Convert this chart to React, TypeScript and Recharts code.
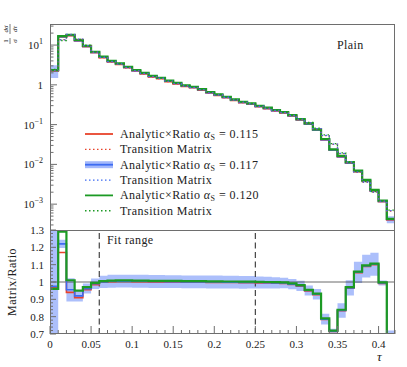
import { ComposedChart, Line, Area, XAxis, YAxis, ReferenceLine } from 'recharts';

// bin lower edges (width 0.01), last entry closes the final bin
const binEdges = Array.from({ length: 43 }, (_, i) => i / 100);

// 1/sigma dsigma/dtau, Analytic x Ratio
const analyticRed = [2.25, 16.0, 17.3, 12.7, 9.1, 6.45, 4.84, 3.8, 3.29, 2.7, 2.24, 1.9, 1.6, 1.43, 1.21, 1.06, 0.92, 0.85, 0.74, 0.627, 0.548, 0.477, 0.41, 0.357, 0.326, 0.283, 0.253, 0.221, 0.197, 0.165, 0.131, 0.103, 0.0724, 0.0413, 0.0227, 0.0155, 0.0107, 0.0066, 0.00386, 0.00217, 0.00116, 0.000404];
const analyticBlue = [2.3, 16.4, 17.7, 13.0, 9.3, 6.6, 4.95, 3.88, 3.37, 2.77, 2.29, 1.95, 1.64, 1.47, 1.24, 1.09, 0.94, 0.868, 0.757, 0.64, 0.56, 0.487, 0.419, 0.365, 0.333, 0.289, 0.258, 0.226, 0.201, 0.169, 0.134, 0.105, 0.0739, 0.0422, 0.0232, 0.0158, 0.011, 0.00674, 0.00394, 0.00221, 0.00118, 0.000412];
const analyticGreen = [2.35, 16.8, 18.2, 13.4, 9.6, 6.8, 5.1, 4.0, 3.47, 2.85, 2.36, 2.01, 1.69, 1.51, 1.28, 1.12, 0.97, 0.895, 0.78, 0.66, 0.577, 0.502, 0.432, 0.376, 0.343, 0.298, 0.266, 0.233, 0.207, 0.174, 0.138, 0.108, 0.0762, 0.0435, 0.0239, 0.0163, 0.0113, 0.00695, 0.00406, 0.00228, 0.00122, 0.000425];

// ratio panel
const ratioRed = [0.97, 1.17, 0.94, 0.91, 0.955, 0.985, 0.999, 1.002, 1.003, 1.003, 1.002, 1.002, 1.001, 1.001, 1.0, 1.0, 0.999, 0.999, 0.999, 0.998, 0.998, 0.997, 0.997, 0.996, 0.996, 0.995, 0.994, 0.993, 0.992, 0.986, 0.976, 0.949, 0.927, 0.784, 0.714, 0.834, 0.964, 1.054, 1.09, 1.1, 0.992, 0.6];
const ratioBlue = [0.975, 1.22, 0.955, 0.92, 0.962, 0.99, 1.001, 1.004, 1.005, 1.005, 1.004, 1.004, 1.003, 1.003, 1.002, 1.002, 1.001, 1.001, 1.001, 1.0, 1.0, 0.999, 0.999, 0.998, 0.998, 0.997, 0.996, 0.995, 0.994, 0.988, 0.978, 0.951, 0.929, 0.786, 0.716, 0.836, 0.966, 1.056, 1.092, 1.102, 0.994, 0.6];
const ratioGreen = [0.96, 1.29, 1.01, 0.95, 0.97, 0.995, 1.005, 1.008, 1.009, 1.009, 1.008, 1.008, 1.007, 1.007, 1.006, 1.006, 1.005, 1.005, 1.005, 1.004, 1.004, 1.003, 1.003, 1.002, 1.002, 1.001, 1.0, 0.999, 0.998, 0.992, 0.982, 0.955, 0.933, 0.79, 0.72, 0.84, 0.97, 1.06, 1.096, 1.106, 0.998, 0.6];
// relative uncertainty of alpha_S = 0.117
const errBlue = [0.35, 0.02, 0.07, 0.035, 0.03, 0.03, 0.035, 0.037, 0.037, 0.037, 0.037, 0.037, 0.037, 0.037, 0.037, 0.037, 0.037, 0.037, 0.037, 0.037, 0.037, 0.037, 0.037, 0.037, 0.036, 0.035, 0.034, 0.032, 0.03, 0.03, 0.03, 0.03, 0.033, 0.04, 0.02, 0.05, 0.045, 0.058, 0.06, 0.06, 0.015, 0.2];

const fitRange = [0.06, 0.25];
const xMajor = [0, 0.05, 0.1, 0.15, 0.2, 0.25, 0.3, 0.35, 0.4];
const yTopMajor = [0.001, 0.01, 0.1, 1, 10];
const yRatioMajor = [0.7, 0.8, 0.9, 1, 1.1, 1.2, 1.3];

const legendItems = [
  { color: '#e8432b', kind: 'solid', alpha: '0.115' },
  { color: '#e8432b', kind: 'dotted', alpha: '' },
  { color: '#3d6bf2', kind: 'band', alpha: '0.117' },
  { color: '#3d6bf2', kind: 'dotted', alpha: '' },
  { color: '#1c9a24', kind: 'solid', alpha: '0.120' },
  { color: '#1c9a24', kind: 'dotted', alpha: '' },
];

const RED = '#e8432b';
const BLUE = '#3d6bf2';
const BAND = '#a3b8fb';
const GREEN = '#1c9a24';
const FRAME = '#6e6e6e';
const FONT = "'Liberation Serif', 'DejaVu Serif', serif";
const DOT = '1.5 2.5';

const xTicks = Array.from({ length: 43 }, (_, i) => i / 100);
const yTopTicks: number[] = [];
[-4, -3, -2, -1, 0, 1].forEach((e) => {
  for (let m = 1; m < 10; m++) {
    const v = m * Math.pow(10, e);
    if (v > 2.3e-4 && v < 33) yTopTicks.push(Number(v.toPrecision(3)));
  }
});
const yRatioTicks = Array.from({ length: 31 }, (_, i) => Math.round((0.7 + i * 0.02) * 100) / 100);

const isMajorX = (v: number) => xMajor.some((m) => Math.abs(m - v) < 1e-6);
const isMajorLog = (v: number) => yTopMajor.some((m) => Math.abs(m - v) / m < 1e-6);
const isMajorRatio = (v: number) => yRatioMajor.some((m) => Math.abs(m - v) < 1e-6);

const last = analyticGreen.length - 1;
const rows = binEdges.map((x, i) => {
  const k = Math.min(i, last);
  return {
    x,
    red: analyticRed[k],
    blue: analyticBlue[k],
    green: analyticGreen[k],
    redM: analyticRed[k] / ratioRed[k],
    blueM: analyticBlue[k] / ratioBlue[k],
    greenM: analyticGreen[k] / ratioGreen[k],
    band: [analyticBlue[k] * (1 - errBlue[k]), analyticBlue[k] * (1 + errBlue[k])],
    rRed: ratioRed[k],
    rBlue: ratioBlue[k],
    rGreen: ratioGreen[k],
    rBand: [ratioBlue[k] * (1 - errBlue[k]), ratioBlue[k] * (1 + errBlue[k])],
  };
});

function XTickUp(props: any) {
  const { x, y, payload } = props;
  const len = isMajorX(payload.value) ? 8 : 4;
  return <line x1={x} x2={x} y1={y} y2={y - len} stroke={FRAME} strokeWidth={1} />;
}

function XTickDown(props: any) {
  const { x, y, payload } = props;
  const len = isMajorX(payload.value) ? 8 : 4;
  return <line x1={x} x2={x} y1={y} y2={y + len} stroke={FRAME} strokeWidth={1} />;
}

function XTickBottom(props: any) {
  const { x, y, payload } = props;
  const major = isMajorX(payload.value);
  return (
    <g>
      <line x1={x} x2={x} y1={y} y2={y - (major ? 8 : 4)} stroke={FRAME} strokeWidth={1} />
      {major && (
        <text x={x} y={y + 14} textAnchor="middle" fontSize={11} fontFamily={FONT} fill="#222">
          {String(payload.value)}
        </text>
      )}
    </g>
  );
}

function YTickLog(props: any) {
  const { x, y, payload } = props;
  const v = payload.value;
  const major = isMajorLog(v);
  const e = Math.round(Math.log10(v));
  return (
    <g>
      <line x1={x} x2={x + (major ? 7 : 3.5)} y1={y} y2={y} stroke={FRAME} strokeWidth={1} />
      {major && (
        <text x={x - 7} y={y + 4} textAnchor="end" fontSize={11} fontFamily={FONT} fill="#222">
          {e === 0 ? '1' : '10'}
          {e !== 0 && (
            <tspan dy={-5} fontSize={8}>
              {e < 0 ? '\u2212' + -e : String(e)}
            </tspan>
          )}
        </text>
      )}
    </g>
  );
}

function YTickRatio(props: any) {
  const { x, y, payload } = props;
  const major = isMajorRatio(payload.value);
  return (
    <g>
      <line x1={x} x2={x + (major ? 6 : 3)} y1={y} y2={y} stroke={FRAME} strokeWidth={1} />
      {major && (
        <text x={x - 6} y={y + 4} textAnchor="end" fontSize={11} fontFamily={FONT} fill="#222">
          {String(payload.value)}
        </text>
      )}
    </g>
  );
}

function Swatch({ item, y }: { item: any; y: number }) {
  if (item.kind === 'band') {
    return (
      <g>
        <rect x={5} y={y - 3.5} width={28} height={7} fill={BAND} />
        <line x1={5} x2={33} y1={y} y2={y} stroke={item.color} strokeWidth={1.8} />
      </g>
    );
  }
  return (
    <line
      x1={5}
      x2={33}
      y1={y}
      y2={y}
      stroke={item.color}
      strokeWidth={item.kind === 'solid' ? 1.8 : 1.3}
      strokeDasharray={item.kind === 'dotted' ? DOT : undefined}
    />
  );
}

export default function App() {
  return (
    <div
      style={{
        position: 'absolute',
        left: 0,
        top: 0,
        width: 407,
        height: 367,
        background: '#fff',
        fontFamily: FONT,
      }}
    >
      <style>{`.recharts-surface{overflow:visible}`}</style>
      <div style={{ position: 'absolute', left: 0, top: 0 }}>
        <ComposedChart width={407} height={230} data={rows} margin={{ top: 24, right: 12, bottom: 0, left: 0 }}>
          <XAxis
            type="number"
            dataKey="x"
            domain={[0, 0.42]}
            allowDataOverflow
            ticks={xTicks}
            interval={0}
            height={0}
            tickSize={0}
            tickMargin={0}
            axisLine={false}
            tickLine={false}
            tick={<XTickUp />}
          />
          <YAxis
            type="number"
            scale="log"
            domain={[Math.pow(10, -3.65), Math.pow(10, 1.53)]}
            allowDataOverflow
            ticks={yTopTicks}
            interval={0}
            width={50}
            tickSize={0}
            tickMargin={0}
            axisLine={false}
            tickLine={false}
            tick={<YTickLog />}
          />
          <Area type="stepAfter" dataKey="band" fill={BAND} fillOpacity={0.9} stroke="none" isAnimationActive={false} />
          <Line type="stepAfter" dataKey="red" stroke={RED} strokeWidth={1.8} dot={false} isAnimationActive={false} />
          <Line type="stepAfter" dataKey="blue" stroke={BLUE} strokeWidth={1.8} dot={false} isAnimationActive={false} />
          <Line type="stepAfter" dataKey="green" stroke={GREEN} strokeWidth={2.2} dot={false} isAnimationActive={false} />
          <Line type="stepAfter" dataKey="redM" stroke={RED} strokeWidth={1.3} strokeDasharray={DOT} dot={false} isAnimationActive={false} />
          <Line type="stepAfter" dataKey="blueM" stroke={BLUE} strokeWidth={1.3} strokeDasharray={DOT} dot={false} isAnimationActive={false} />
          <Line type="stepAfter" dataKey="greenM" stroke={GREEN} strokeWidth={1.3} strokeDasharray={DOT} dot={false} isAnimationActive={false} />
        </ComposedChart>
      </div>

      <div style={{ position: 'absolute', left: 0, top: 230 }}>
        <ComposedChart width={407} height={137} data={rows} margin={{ top: 0, right: 12, bottom: 0, left: 0 }}>
          <XAxis
            type="number"
            dataKey="x"
            domain={[0, 0.42]}
            allowDataOverflow
            ticks={xTicks}
            interval={0}
            height={33}
            tickSize={0}
            tickMargin={0}
            axisLine={false}
            tickLine={false}
            tick={<XTickBottom />}
          />
          <XAxis
            xAxisId="top"
            orientation="top"
            type="number"
            domain={[0, 0.42]}
            allowDataOverflow
            ticks={xTicks}
            interval={0}
            height={0}
            tickSize={0}
            tickMargin={0}
            axisLine={false}
            tickLine={false}
            tick={<XTickDown />}
          />
          <YAxis
            type="number"
            domain={[0.7, 1.3]}
            allowDataOverflow
            ticks={yRatioTicks}
            interval={0}
            width={50}
            tickSize={0}
            tickMargin={0}
            axisLine={false}
            tickLine={false}
            tick={<YTickRatio />}
          />
          <Area type="stepAfter" dataKey="rBand" fill={BAND} fillOpacity={0.9} stroke="none" isAnimationActive={false} />
          <ReferenceLine y={1} stroke="#444" strokeWidth={0.8} />
          {fitRange.map((f) => (
            <ReferenceLine key={f} x={f} stroke="#444" strokeWidth={1.2} strokeDasharray="6 3.5" />
          ))}
          <Line type="stepAfter" dataKey="rRed" stroke={RED} strokeWidth={1.6} dot={false} isAnimationActive={false} />
          <Line type="stepAfter" dataKey="rBlue" stroke={BLUE} strokeWidth={1.6} dot={false} isAnimationActive={false} />
          <Line type="stepAfter" dataKey="rGreen" stroke={GREEN} strokeWidth={2.2} dot={false} isAnimationActive={false} />
        </ComposedChart>
      </div>

      <svg
        width={407}
        height={367}
        style={{ position: 'absolute', left: 0, top: 0, pointerEvents: 'none' }}
        fontFamily={FONT}
      >
        <rect x={50.5} y={24.5} width={344} height={206} fill="none" stroke={FRAME} strokeWidth={1} />
        <rect x={50.5} y={230.5} width={344} height={103} fill="none" stroke={FRAME} strokeWidth={1} />

        <g transform="translate(10,35) rotate(-90)" fill="#222">
          <text x={-6} y={-2} textAnchor="middle" fontSize={7}>1</text>
          <line x1={-9} x2={-3} y1={0} y2={0} stroke="#222" strokeWidth={0.6} />
          <text x={-6} y={6.5} textAnchor="middle" fontSize={7} fontStyle="italic">σ</text>
          <text x={6} y={-2} textAnchor="middle" fontSize={7} fontStyle="italic">dσ</text>
          <line x1={1} x2={11} y1={0} y2={0} stroke="#222" strokeWidth={0.6} />
          <text x={6} y={6.5} textAnchor="middle" fontSize={7} fontStyle="italic">dτ</text>
        </g>

        <text
          transform="translate(16,282) rotate(-90)"
          textAnchor="middle"
          fontSize={12}
          letterSpacing={0.5}
          fill="#222"
        >
          Matrix/Ratio
        </text>

        <text x={337} y={49} fontSize={12} letterSpacing={0.4} fill="#222">Plain</text>
        <text x={107} y={244} fontSize={12} letterSpacing={0.4} fill="#222">Fit range</text>
        <text x={377} y={361} fontSize={13} fontStyle="italic" fill="#222">τ</text>

        <g transform="translate(80,125)">
          {legendItems.map((item, i) => {
            const y = 9 + i * 15.35;
            return (
              <g key={i}>
                <Swatch item={item} y={y} />
                <text x={40} y={y + 4} fontSize={12} letterSpacing={0.45} fill="#222">
                  {item.alpha ? (
                    <>
                      Analytic×Ratio{' '}
                      <tspan fontStyle="italic">α</tspan>
                      <tspan fontSize={8} dy={2}>S</tspan>
                      <tspan dy={-2}>{' = ' + item.alpha}</tspan>
                    </>
                  ) : (
                    'Transition Matrix'
                  )}
                </text>
              </g>
            );
          })}
        </g>
      </svg>
    </div>
  );
}
